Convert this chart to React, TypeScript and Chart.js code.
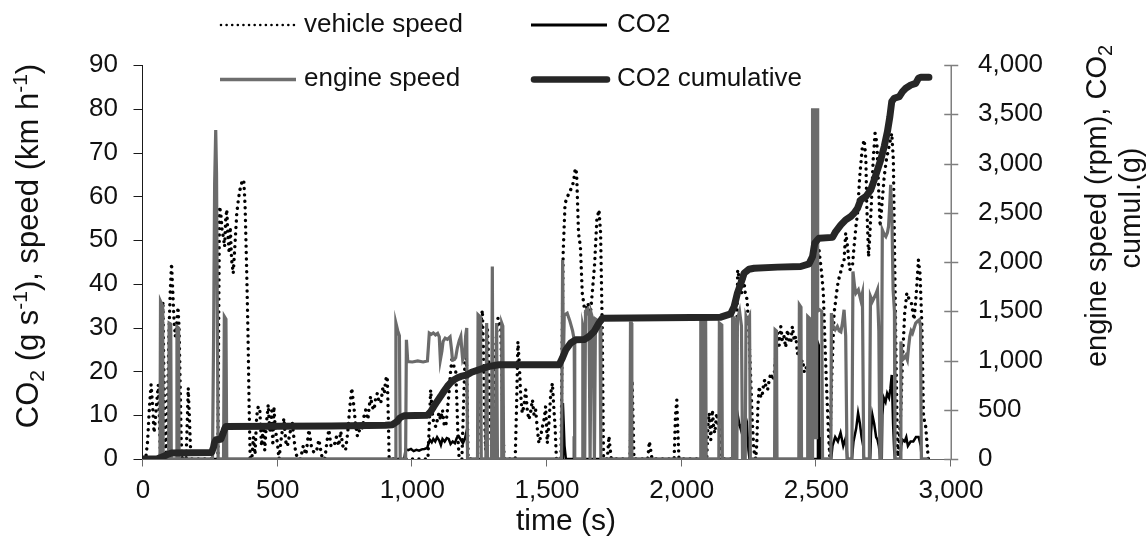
import React, { useEffect, useRef } from "react";
import { Chart, registerables } from "chart.js";

Chart.register(...registerables);

const FONT = '"Liberation Sans", Arial, Helvetica, sans-serif';

// ---------------- data (time in s) ----------------
const seriesLabels = ["vehicle speed", "CO2", "engine speed", "CO2 cumulative"];

// vehicle speed, km/h  [time, value]
const vehicleSpeed: [number, number][] = [
  [0,0],[10,0],[17,4],[24,12],[30,17],[36,12],[41,6],[46,9],[51,13],[57,17],[61,9],[65,0],[68,6],[71,25],[74,36],[77,22],[81,8],[85,0],
  [91,12],[96,28],[101,38],[106,44.7],[110,39],[115,32],[120,28],[125,31],[130,34.7],[134,30],[138,17],[142,4],[146,0],[160,0],[164,8],
  [168,16.2],[172,10],[176,3],[180,0],[278,0],[281,30],[284,57.7],[289,56],[294,52],[299,50.5],[303,48.5],[307,54.6],[311,57],[315,51.6],
  [320,47],[324,53],[329,45.5],[335,42.4],[341,48.5],[348,56],[354,59.2],[360,61.5],[368,63.4],[374,63.8],[379,58],[385,43],[390,28],
  [394,12],[398,0],[404,0],[410,5],[416,1],[422,9.7],[428,12],[434,11],[440,3],[447,7.4],[452,2],[458,8],[465,12.4],[471,6],[478,11],
  [482,3],[486,12],[491,7],[499,3.6],[505,0],[512,4],[523,9.3],[530,4],[536,2.9],[546,6],[554,8.6],[560,5],[567,1.4],[575,0],[585,0],
  [595,3],[605,1],[616,6.7],[625,3],[635,1.4],[645,2],[653,4.4],[660,2],[666,0],[675,0],[683,4],[690,6.7],[698,3],[709,2.9],[718,5],
  [727,3],[734,6.3],[742,3],[752,2],[760,6],[768,12],[775,16.2],[783,12],[789,8],[796,5.2],[802,6],[808,8.2],[815,7],[821,10],[827,11.2],
  [835,9],[840,12],[845,14.3],[851,12],[858,11.2],[864,14],[870,15],[876,13],[883,12.8],[890,16],[896,15],[901,18.1],[907,18.9],[911,9],
  [914,0],[1058,0],[1063,8],[1068,15.8],[1074,10.5],[1080,8],[1087,7.4],[1093,9],[1099,10.5],[1105,9],[1112,11.2],[1118,8],[1124,7.4],
  [1130,11],[1136,15],[1142,20],[1148,23.4],[1155,21],[1161,20.4],[1166,12],[1170,4],[1174,0],[1184,0],[1190,12],[1195,22],[1200,26.8],
  [1204,12],[1207,0],[1242,0],[1250,18],[1256,32],[1260,34],[1264,25],[1268,10],[1272,2],[1276,15],[1279,29.5],[1284,22],[1289,8],[1294,3],
  [1300,10],[1306,20],[1312,28],[1318,32.2],[1324,31],[1328,30.5],[1333,18],[1337,6],[1341,0],[1382,0],[1387,12],[1392,26.8],[1397,22],
  [1402,15],[1408,10.5],[1414,12],[1421,15.8],[1427,11],[1433,9],[1440,11],[1446,13.5],[1452,10],[1458,11.2],[1464,7],[1470,3.6],[1476,5],
  [1483,7.4],[1489,9],[1495,12],[1501,3.6],[1507,8],[1514,15],[1520,17.3],[1525,12],[1530,7.4],[1535,0],[1552,0],[1556,25],[1560,47],
  [1567,58.4],[1576,59.9],[1584,61.1],[1594,62.2],[1600,64],[1605,66.4],[1610,65.3],[1617,51.6],[1624,48.5],[1631,37.9],[1638,34.8],
  [1644,33.3],[1652,35.6],[1660,32.5],[1668,37.9],[1677,44.7],[1685,54.6],[1693,56.9],[1699,51.6],[1705,30.3],[1710,0],[1724,0],[1730,5.2],
  [1735,2],[1739,0],[1808,0],[1813,12],[1816,18],[1820,8],[1823,0],[1874,0],[1880,4],[1885,2],[1890,0],[1972,0],[1977,10],[1982,13.5],
  [1986,6],[1990,0],[2093,0],[2098,8],[2102,10.5],[2108,4.4],[2114,11.2],[2119,7],[2123,5.9],[2130,10.5],[2135,8],[2139,7.4],[2145,2.9],
  [2150,0],[2200,0],[2204,25],[2208,43.2],[2215,40.9],[2222,37.9],[2229,41.7],[2236,38],[2243,36.4],[2249,30],[2256,19],[2262,9],[2268,2],
  [2275,0],[2279,3.6],[2283,12],[2288,16.6],[2294,14],[2300,15],[2305,17.5],[2309,18.1],[2314,16],[2319,15.8],[2325,18],[2331,19.6],
  [2337,18],[2343,18.9],[2350,24],[2356,28.8],[2362,26],[2368,30.3],[2374,27],[2380,28],[2386,25.5],[2393,29.5],[2399,27],[2405,26.5],
  [2411,30.3],[2418,27],[2424,28],[2430,24],[2436,25],[2442,22],[2449,22.6],[2455,20],[2461,21.1],[2468,20],[2480,21],[2487,25],[2495,40],
  [2503,46],[2510,47.8],[2515,45],[2520,42.4],[2526,37.9],[2532,26.5],[2539,15],[2545,5.9],[2550,0.6],[2557,18.1],[2566,33.3],[2575,37.9],
  [2582,40.9],[2588,42],[2595,44],[2603,45.5],[2609,51.6],[2616,48.5],[2624,43.2],[2634,44],[2640,48.5],[2647,53.1],[2653,56.1],[2661,64.5],
  [2671,71.4],[2678,72.9],[2684,68.3],[2687,58.4],[2694,46.2],[2699,51.6],[2705,59.2],[2711,68.3],[2718,74.4],[2725,72.1],[2731,62.2],
  [2737,53.1],[2743,57.7],[2752,64.5],[2760,68.3],[2770,71.4],[2780,74.4],[2786,68.3],[2791,45.5],[2796,22.7],[2802,0.6],[2808,4],
  [2814,11.2],[2820,22.7],[2828,33.3],[2836,37.9],[2845,36.4],[2853,35.6],[2863,31.8],[2872,38.6],[2879,45.5],[2885,42.4],[2892,30.3],
  [2898,9.7],[2906,7.4],[2913,2.1],[2916,0],
];

// CO2 emission rate, g/s  [time, value]
const co2Rate: [number, number][] = [
  [0,0],[970,0],[975,2.2],[985,2.0],[995,2.3],[1005,1.8],[1015,2.1],[1025,1.9],[1035,2.2],[1045,2.3],[1055,2.5],[1060,3.5],[1065,4.4],
  [1072,3.8],[1078,4.6],[1085,4.0],[1092,5.0],[1100,4.2],[1106,3.2],[1112,4.6],[1120,4.0],[1128,4.8],[1135,4.6],[1142,3.4],[1150,4.0],
  [1158,3.6],[1165,4.8],[1172,5.2],[1180,4.4],[1188,3.6],[1196,4.8],[1202,6.5],[1205,0],[1556,0],[1559,12.8],[1562,8],[1565,3],[1570,0],
  [1597,0],[1600,5.2],[1603,0],[2201,0],[2205,7],[2208,10.1],[2214,8],[2220,6.7],[2226,8.7],[2232,8],[2238,6],[2243,7.4],[2248,2],[2252,0],
  [2503,0],[2506,26.5],[2509,26],[2511,5],[2513,0],[2555,0],[2560,3],[2570,5],[2580,4],[2590,6],[2600,3],[2610,5],[2615,0],[2632,0],
  [2638,4],[2648,7],[2655,10.5],[2662,8],[2668,5],[2674,3],[2677,0],[2700,0],[2703,6],[2708,10.1],[2715,8],[2722,5],[2727,4.4],[2732,3],
  [2738,0],[2743,0],[2745,10],[2750,14],[2757,13],[2763,15],[2770,14],[2775,16],[2780,19.2],[2785,8],[2789,2],[2792,0],[2812,0],[2815,3],
  [2820,4.4],[2828,4],[2834,5],[2840,3],[2850,4],[2860,4],[2870,5],[2880,5],[2888,3],[2891,0],[2917,0],
];

// engine speed, rpm  [time, value]
const engineSpeed: [number, number][] = [
  [0,0],[63,0],[65,1600],[73,1550],[75,0],[95,0],[97,1380],[103,1370],[105,0],[124,0],[126,1345],[132,1330],[134,0],[258,0],[262,1200],
  [266,2800],[270,3340],[273,2900],[276,1500],[279,0],[299,0],[302,1447],[308,1420],[311,0],[937,0],[939,1380],[946,1300],[952,1250],
  [955,0],[975,0],[978,1210],[983,990],[1000,985],[1020,995],[1040,985],[1056,995],[1060,1150],[1063,1278],[1070,1265],[1078,1280],
  [1086,1260],[1094,1275],[1100,1240],[1104,1007],[1110,1100],[1114,1193],[1122,1227],[1130,1215],[1140,1240],[1146,1100],[1149,1007],
  [1156,1010],[1161,1030],[1167,1126],[1174,1200],[1180,1244],[1184,1100],[1187,1007],[1194,1050],[1198,1250],[1202,1329],[1205,0],
  [1242,0],[1244,1464],[1253,1440],[1256,0],[1273,0],[1276,1380],[1279,0],[1294,0],[1297,1954],[1300,0],[1310,0],[1313,1380],[1316,0],
  [1330,0],[1332,1380],[1336,1350],[1339,0],[1554,0],[1558,2020],[1561,1000],[1564,1460],[1575,1480],[1585,1400],[1595,1300],[1601,1210],
  [1603,0],[1630,0],[1633,1350],[1637,1300],[1640,0],[1643,1500],[1650,1520],[1656,1450],[1660,0],[1664,1480],[1672,1400],[1676,0],
  [1680,1420],[1690,1400],[1697,1350],[1700,0],[1808,0],[1810,1380],[1813,1380],[1815,0],[2069,0],[2071,1430],[2078,1430],[2080,0],
  [2082,0],[2084,1430],[2089,1420],[2091,0],[2138,0],[2140,1380],[2149,1360],[2151,0],[2187,0],[2189,1447],[2198,1420],[2201,0],[2205,0],
  [2207,1420],[2215,1500],[2222,1350],[2226,0],[2236,0],[2239,1447],[2245,1400],[2252,1447],[2255,0],[2345,0],[2347,1312],[2352,1300],
  [2354,0],[2435,0],[2437,1565],[2443,1540],[2445,0],[2466,0],[2468,1447],[2478,1420],[2480,0],[2484,0],[2486,3561],[2489,200],
  [2492,3561],[2495,200],[2498,3561],[2501,200],[2503,3561],[2505,1500],[2512,1515],[2520,1500],[2523,0],[2554,0],[2556,1481],[2562,1350],
  [2570,1312],[2578,1346],[2585,1300],[2591,1290],[2597,1380],[2603,1515],[2609,1250],[2614,0],[2632,0],[2636,1904],[2642,1750],
  [2647,1684],[2656,1718],[2665,1616],[2671,1684],[2676,0],[2697,0],[2701,1650],[2708,1600],[2715,1640],[2722,1680],[2727,1718],
  [2732,1300],[2736,0],[2741,0],[2745,2326],[2752,2280],[2758,2259],[2764,2300],[2768,2360],[2772,2550],[2776,2783],[2781,2400],
  [2785,1718],[2790,1500],[2792,0],[2811,0],[2814,1193],[2820,1007],[2826,1024],[2832,1050],[2838,1007],[2843,1150],[2847,1244],
  [2852,1300],[2857,1278],[2863,1330],[2869,1380],[2876,1400],[2882,1413],[2887,1350],[2890,0],[2917,0],
];

// cumulative CO2, g  [time, value]
const co2Cumulative: [number, number][] = [
  [0,0],[50,0],[60,8],[75,25],[90,45],[106,61],[180,63],[255,67],[262,120],[265,162],[271,196],[289,200],[298,264],[303,305],[308,331],
  [500,333],[700,336],[900,342],[926,348],[944,382],[953,416],[969,439],[1056,445],[1068,480],[1080,534],[1092,585],[1105,636],[1118,690],
  [1130,737],[1142,775],[1155,805],[1168,825],[1180,838],[1204,855],[1220,880],[1247,906],[1285,940],[1322,957],[1545,957],[1557,1024],
  [1570,1109],[1588,1177],[1607,1210],[1638,1212],[1656,1244],[1675,1295],[1693,1380],[1706,1430],[2145,1440],[2182,1474],[2195,1549],
  [2207,1684],[2220,1785],[2232,1887],[2250,1927],[2269,1937],[2356,1948],[2442,1954],[2473,1981],[2486,2056],[2494,2191],[2504,2225],
  [2510,2242],[2560,2250],[2572,2309],[2591,2377],[2609,2428],[2628,2462],[2640,2495],[2653,2546],[2665,2631],[2684,2665],[2702,2732],
  [2715,2834],[2727,2935],[2739,3037],[2752,3172],[2764,3324],[2773,3476],[2780,3628],[2789,3662],[2808,3679],[2820,3730],[2832,3764],
  [2851,3797],[2869,3814],[2879,3865],[2888,3875],[2918,3875],
];

const timeRange = [0, 3000];
const timeStep = 500;
const leftRange = [0, 90];
const leftStep = 10;
const rightRange = [0, 4000];
const rightStep = 500;

// ---------------- helpers ----------------
const toXY = (arr: [number, number][]) => arr.map(([x, y]) => ({ x, y }));

type Seg = [string, "n" | "sub" | "sup"];
const segFont = (k: string, size: number) =>
  `${k === "n" ? size : Math.round(size * 0.68)}px ${FONT}`;
function measureRich(ctx: CanvasRenderingContext2D, segs: Seg[], size: number) {
  let w = 0;
  for (const [t, k] of segs) {
    ctx.font = segFont(k, size);
    w += ctx.measureText(t).width;
  }
  return w;
}
function drawRich(ctx: CanvasRenderingContext2D, segs: Seg[], size: number, x: number, y: number) {
  let cx = x;
  for (const [t, k] of segs) {
    ctx.font = segFont(k, size);
    const dy = k === "sub" ? size * 0.2 : k === "sup" ? -size * 0.36 : 0;
    ctx.fillText(t, cx, y + dy);
    cx += ctx.measureText(t).width;
  }
}
function rotatedRich(ctx: CanvasRenderingContext2D, segs: Seg[], size: number, bx: number, cy: number) {
  const w = measureRich(ctx, segs, size);
  ctx.save();
  ctx.translate(bx, cy);
  ctx.rotate(-Math.PI / 2);
  drawRich(ctx, segs, size, -w / 2, 0);
  ctx.restore();
}

const decor = {
  id: "decor",
  beforeDatasetsDraw(chart: any) {
    const { ctx, chartArea: a, scales } = chart;
    const xs = scales.x, yl = scales.y, yr = scales.y1;
    ctx.save();
    // left axis
    ctx.strokeStyle = "#1a1a1a";
    ctx.lineWidth = 1;
    const lx = Math.round(a.left) - 0.5;
    ctx.beginPath();
    ctx.moveTo(lx, a.top);
    ctx.lineTo(lx, a.bottom);
    yl.ticks.forEach((t: any) => {
      const py = Math.round(yl.getPixelForValue(t.value)) + 0.5;
      ctx.moveTo(lx - 9, py);
      ctx.lineTo(lx, py);
    });
    ctx.stroke();
    // bottom axis
    ctx.strokeStyle = "#6a6a6a";
    const by = Math.round(a.bottom) + 0.5;
    ctx.beginPath();
    ctx.moveTo(a.left, by);
    ctx.lineTo(a.right, by);
    xs.ticks.forEach((t: any) => {
      const px = Math.round(xs.getPixelForValue(t.value)) - 0.5;
      ctx.moveTo(px, by);
      ctx.lineTo(px, by + 7);
    });
    ctx.stroke();
    // right axis
    ctx.strokeStyle = "#7f7f7f";
    ctx.lineWidth = 1.5;
    const rx = Math.round(a.right) + 0.25;
    ctx.beginPath();
    ctx.moveTo(rx, a.top);
    ctx.lineTo(rx, a.bottom + 1);
    yr.ticks.forEach((t: any) => {
      const py = Math.round(yr.getPixelForValue(t.value)) + 0.5;
      ctx.moveTo(rx - 7, py);
      ctx.lineTo(rx + 7, py);
    });
    ctx.stroke();
    ctx.restore();
  },
  afterDraw(chart: any) {
    const ctx: CanvasRenderingContext2D = chart.ctx;
    const labels = chart.data.datasets.map((d: any) => d.label);
    ctx.save();
    ctx.fillStyle = "#111";
    ctx.textAlign = "left";
    ctx.textBaseline = "alphabetic";
    // legend samples
    const line = (x1: number, y: number, x2: number) => {
      ctx.beginPath();
      ctx.moveTo(x1, y);
      ctx.lineTo(x2, y);
      ctx.stroke();
    };
    ctx.strokeStyle = "#000";
    ctx.lineWidth = 2.6;
    ctx.lineCap = "round";
    ctx.setLineDash([0.01, 5.6]);
    line(221, 25, 294);
    ctx.setLineDash([]);
    ctx.lineCap = "butt";
    ctx.lineWidth = 2.8;
    line(531, 25, 607);
    ctx.strokeStyle = "#6e6e6e";
    ctx.lineWidth = 3.3;
    line(220, 79.5, 296);
    ctx.strokeStyle = "#262626";
    ctx.lineWidth = 6.5;
    ctx.lineCap = "round";
    line(534, 79.5, 607);
    ctx.font = `26px ${FONT}`;
    ctx.fillText(labels[0], 304, 31.5);
    ctx.fillText(labels[1], 617, 31.5);
    ctx.fillText(labels[2], 304, 86);
    ctx.fillText(labels[3], 617, 86);

    // axis titles
    rotatedRich(ctx, [["CO", "n"], ["2", "sub"], [" (g s", "n"], ["-1", "sup"], ["), speed (km h", "n"], ["-1", "sup"], [")", "n"]], 31, 38, 246);
    rotatedRich(ctx, [["engine speed (rpm), CO", "n"], ["2", "sub"]], 29, 1106, 206);
    rotatedRich(ctx, [["cumul.(g)", "n"]], 29, 1140, 208);
    ctx.font = `30px ${FONT}`;
    ctx.textAlign = "center";
    ctx.fillText("time (s)", 566, 530);
    ctx.restore();
  },
};

export default function App() {
  const ref = useRef<HTMLCanvasElement | null>(null);
  useEffect(() => {
    if (!ref.current) return;
    const tickFont = { family: FONT, size: 26 };
    const chart = new Chart(ref.current, {
      type: "line",
      data: {
        datasets: [
          {
            label: seriesLabels[0],
            data: toXY(vehicleSpeed),
            yAxisID: "y",
            borderColor: "#000",
            borderWidth: 3.4,
            borderDash: [0.01, 6.4],
            borderCapStyle: "round",
            borderJoinStyle: "round",
            pointRadius: 0,
            tension: 0,
            order: 3,
          },
          {
            label: seriesLabels[1],
            data: toXY(co2Rate),
            yAxisID: "y",
            borderColor: "#000",
            borderWidth: 2.5,
            pointRadius: 0,
            tension: 0,
            order: 2,
          },
          {
            label: seriesLabels[2],
            data: toXY(engineSpeed),
            yAxisID: "y1",
            borderColor: "#6b6b6b",
            borderWidth: 3.2,
            pointRadius: 0,
            tension: 0,
            order: 1,
          },
          {
            label: seriesLabels[3],
            data: toXY(co2Cumulative),
            yAxisID: "y1",
            borderColor: "#262626",
            borderWidth: 7,
            borderCapStyle: "round",
            borderJoinStyle: "round",
            pointRadius: 0,
            tension: 0,
            order: 0,
          },
        ],
      },
      options: {
        animation: false,
        responsive: true,
        maintainAspectRatio: false,
        events: [],
        layout: { padding: { top: 65, left: 0, right: 0, bottom: 0 } },
        plugins: { legend: { display: false }, tooltip: { enabled: false } },
        scales: {
          x: {
            type: "linear",
            min: timeRange[0],
            max: timeRange[1],
            grid: { display: false, drawTicks: false },
            border: { display: false },
            ticks: { stepSize: timeStep, font: tickFont, color: "#111", padding: 16, maxRotation: 0, autoSkip: false },
            afterFit: (s: any) => { s.height = 81; },
          },
          y: {
            position: "left",
            min: leftRange[0],
            max: leftRange[1],
            grid: { display: false, drawTicks: false },
            border: { display: false },
            ticks: { stepSize: leftStep, font: tickFont, color: "#111", padding: 25 },
            afterFit: (s: any) => { s.width = 143; },
          },
          y1: {
            position: "right",
            min: rightRange[0],
            max: rightRange[1],
            grid: { display: false, drawTicks: false },
            border: { display: false },
            ticks: { stepSize: rightStep, font: tickFont, color: "#111", padding: 27 },
            afterFit: (s: any) => { s.width = 195; },
          },
        },
      } as any,
      plugins: [decor as any],
    });
    return () => chart.destroy();
  }, []);
  return (
    <div style={{ position: "absolute", left: 0, top: 0, width: 1146, height: 540, background: "#fff" }}>
      <canvas ref={ref} />
    </div>
  );
}
